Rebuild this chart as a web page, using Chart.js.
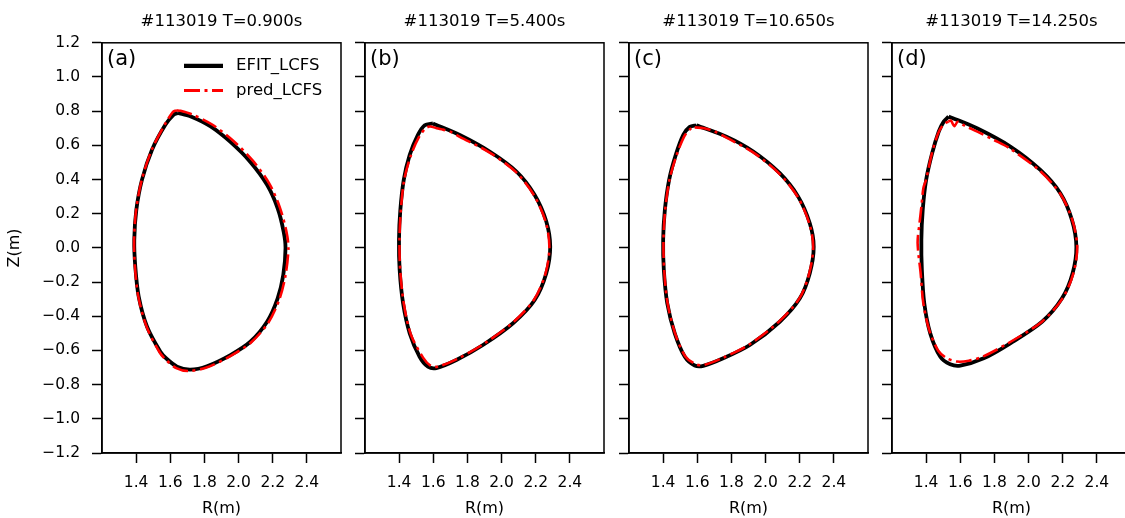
<!DOCTYPE html>
<html>
<head>
<meta charset="utf-8">
<script src="https://cdn.jsdelivr.net/npm/chart.js@4.4.0/dist/chart.umd.min.js"></script>
<style>
    html, body { margin: 0; padding: 0; background: #fff; }
    body { width: 1125px; height: 518px; overflow: hidden; position: relative; }
    .panel { position: absolute; top: 0; width: 349px; height: 518px; }
</style>
</head>
<body>
<div class="panel" style="left:0px"><canvas id="c0" width="349" height="518"></canvas></div>
<div class="panel" style="left:263px"><canvas id="c1" width="349" height="518"></canvas></div>
<div class="panel" style="left:527px"><canvas id="c2" width="349" height="518"></canvas></div>
<div class="panel" style="left:790px"><canvas id="c3" width="349" height="518"></canvas></div>
<script>
// Chart data
const panelTitles = ['#113019 T=0.900s', '#113019 T=5.400s', '#113019 T=10.650s', '#113019 T=14.250s'];
const panelLabels = ['(a)', '(b)', '(c)', '(d)'];
const seriesNames = ['EFIT_LCFS', 'pred_LCFS'];
const xTicks = [1.4, 1.6, 1.8, 2.0, 2.2, 2.4];
const yTicks = [-1.2, -1.0, -0.8, -0.6, -0.4, -0.2, 0.0, 0.2, 0.4, 0.6, 0.8, 1.0, 1.2];

// (a) T=0.900s
const efitR_a = [1.645, 1.717, 1.834, 1.952, 2.069, 2.167, 2.229, 2.264, 2.275, 2.262, 2.229, 2.167, 2.069, 1.952, 1.815, 1.717, 1.640, 1.580, 1.542, 1.464, 1.415, 1.395, 1.389, 1.401, 1.434, 1.493, 1.571, 1.620, 1.645];
const efitZ_a = [0.790, 0.770, 0.712, 0.620, 0.503, 0.369, 0.232, 0.095, 0.000, -0.158, -0.295, -0.432, -0.549, -0.627, -0.692, -0.712, -0.695, -0.650, -0.607, -0.461, -0.285, -0.110, 0.047, 0.222, 0.398, 0.574, 0.720, 0.780, 0.790];
const predR_a = [1.635, 1.660, 1.725, 1.845, 1.965, 2.082, 2.180, 2.242, 2.280, 2.292, 2.275, 2.240, 2.175, 2.073, 1.952, 1.812, 1.705, 1.635, 1.575, 1.538, 1.462, 1.413, 1.393, 1.388, 1.400, 1.433, 1.492, 1.570, 1.615, 1.635];
const predZ_a = [0.805, 0.802, 0.782, 0.722, 0.630, 0.512, 0.376, 0.236, 0.097, 0.000, -0.160, -0.298, -0.436, -0.553, -0.633, -0.700, -0.720, -0.703, -0.655, -0.612, -0.463, -0.286, -0.110, 0.047, 0.222, 0.398, 0.575, 0.725, 0.795, 0.805];

// (b) T=5.400s
const efitR_b = [1.598, 1.755, 1.930, 2.087, 2.194, 2.262, 2.285, 2.262, 2.194, 2.067, 1.891, 1.735, 1.618, 1.569, 1.520, 1.462, 1.423, 1.403, 1.399, 1.407, 1.427, 1.462, 1.510, 1.550, 1.598];
const efitZ_b = [0.728, 0.661, 0.564, 0.447, 0.310, 0.154, 0.007, -0.148, -0.305, -0.441, -0.568, -0.656, -0.703, -0.695, -0.637, -0.500, -0.324, -0.129, 0.047, 0.222, 0.398, 0.544, 0.661, 0.718, 0.728];
const predR_b = [1.580, 1.620, 1.657, 1.700, 1.755, 1.930, 2.085, 2.190, 2.258, 2.280, 2.258, 2.190, 2.065, 1.890, 1.735, 1.625, 1.585, 1.540, 1.468, 1.427, 1.406, 1.402, 1.410, 1.430, 1.470, 1.518, 1.555, 1.580];
const predZ_b = [0.712, 0.700, 0.692, 0.680, 0.650, 0.558, 0.443, 0.308, 0.154, 0.007, -0.148, -0.303, -0.438, -0.565, -0.652, -0.695, -0.690, -0.642, -0.505, -0.324, -0.129, 0.047, 0.222, 0.400, 0.545, 0.652, 0.700, 0.712];

// (c) T=10.650s
const efitR_c = [1.595, 1.771, 1.928, 2.083, 2.191, 2.259, 2.282, 2.259, 2.201, 2.083, 1.908, 1.752, 1.635, 1.585, 1.527, 1.468, 1.424, 1.404, 1.400, 1.410, 1.435, 1.474, 1.518, 1.556, 1.595];
const efitZ_c = [0.717, 0.651, 0.564, 0.437, 0.300, 0.144, 0.007, -0.148, -0.295, -0.432, -0.568, -0.646, -0.690, -0.688, -0.637, -0.500, -0.324, -0.129, 0.047, 0.222, 0.398, 0.544, 0.661, 0.708, 0.717];
const predR_c = [1.585, 1.640, 1.700, 1.771, 1.925, 2.080, 2.188, 2.256, 2.279, 2.256, 2.199, 2.080, 1.905, 1.750, 1.640, 1.595, 1.530, 1.470, 1.426, 1.406, 1.402, 1.412, 1.437, 1.478, 1.522, 1.558, 1.585];
const predZ_c = [0.705, 0.700, 0.682, 0.645, 0.560, 0.435, 0.299, 0.144, 0.007, -0.148, -0.294, -0.430, -0.565, -0.643, -0.685, -0.682, -0.635, -0.500, -0.324, -0.129, 0.047, 0.222, 0.398, 0.540, 0.650, 0.695, 0.705];

// (d) T=14.250s
const efitR_d = [1.532, 1.698, 1.893, 2.069, 2.186, 2.254, 2.280, 2.258, 2.196, 2.079, 1.893, 1.737, 1.600, 1.541, 1.483, 1.424, 1.389, 1.375, 1.372, 1.380, 1.400, 1.435, 1.474, 1.503, 1.532];
const efitZ_d = [0.769, 0.700, 0.593, 0.456, 0.320, 0.164, 0.007, -0.148, -0.295, -0.432, -0.558, -0.646, -0.689, -0.681, -0.637, -0.500, -0.324, -0.129, 0.047, 0.222, 0.398, 0.554, 0.681, 0.739, 0.769];
const predR_d = [1.530, 1.545, 1.565, 1.585, 1.620, 1.700, 1.800, 1.890, 2.065, 2.185, 2.256, 2.285, 2.262, 2.198, 2.080, 1.890, 1.735, 1.650, 1.580, 1.520, 1.470, 1.418, 1.383, 1.368, 1.350, 1.362, 1.372, 1.384, 1.400, 1.433, 1.470, 1.500, 1.530];
const predZ_d = [0.740, 0.745, 0.712, 0.738, 0.718, 0.680, 0.630, 0.582, 0.452, 0.318, 0.164, 0.007, -0.150, -0.297, -0.430, -0.552, -0.635, -0.660, -0.665, -0.645, -0.600, -0.480, -0.320, -0.150, 0.030, 0.150, 0.240, 0.350, 0.400, 0.550, 0.670, 0.720, 0.740];

const efitR = [efitR_a, efitR_b, efitR_c, efitR_d];
const efitZ = [efitZ_a, efitZ_b, efitZ_c, efitZ_d];
const predR = [predR_a, predR_b, predR_c, predR_d];
const predZ = [predZ_a, predZ_b, predZ_c, predZ_d];

Chart.defaults.font.family = "'DejaVu Sans', sans-serif";
Chart.defaults.color = '#000';

function toPoints(rs, zs) {
    return rs.map((r, i) => ({ x: r, y: zs[i] }));
}

function fmtTick(v) {
    return v.toFixed(1).replace('-', '\u2212');
}

// closes the box (top and right spines) and writes the panel letter
const framePlugin = {
    id: 'frame',
    afterDraw(chart, args, opts) {
        const ctx = chart.ctx;
        const a = chart.chartArea;
        ctx.save();
        ctx.strokeStyle = '#000';
        ctx.lineWidth = 1.5;
        ctx.strokeRect(a.left, a.top, a.right - a.left, a.bottom - a.top);
        ctx.font = "21px 'DejaVu Sans'";
        ctx.fillStyle = '#000';
        ctx.textAlign = 'left';
        ctx.textBaseline = 'middle';
        ctx.fillText(opts.label, a.left + 5, a.top + 17);
        ctx.restore();
    }
};

// matplotlib-like legend inside the first panel
const boxLegendPlugin = {
    id: 'boxLegend',
    afterDraw(chart, args, opts) {
        if (!opts.show) return;
        const ctx = chart.ctx;
        const a = chart.chartArea;
        const x0 = a.left + 82, x1 = a.left + 121, tx = a.left + 134;
        ctx.save();
        chart.data.datasets.slice().reverse().forEach((ds, i) => {
            const y = a.top + 23 + i * 24.7;
            ctx.beginPath();
            ctx.strokeStyle = ds.borderColor;
            ctx.lineWidth = ds.borderWidth + 0.4;
            ctx.setLineDash(ds.borderDash || []);
            ctx.moveTo(x0, y);
            ctx.lineTo(x1, y);
            ctx.stroke();
            ctx.setLineDash([]);
            ctx.font = "16.5px 'DejaVu Sans'";
            ctx.fillStyle = '#000';
            ctx.textBaseline = 'middle';
            ctx.fillText(ds.label, tx, y);
        });
        ctx.restore();
    }
};

for (let p = 0; p < 4; p++) {
    const first = p === 0;
    new Chart(document.getElementById('c' + p), {
        type: 'scatter',
        data: {
            datasets: [
                {
                    label: seriesNames[1],
                    data: toPoints(predR[p], predZ[p]),
                    showLine: true,
                    borderColor: '#ff0000',
                    borderWidth: 2.6,
                    borderDash: [16, 4.5, 3, 4.5],
                    pointRadius: 0,
                    tension: 0.3,
                    order: 1
                },
                {
                    label: seriesNames[0],
                    data: toPoints(efitR[p], efitZ[p]),
                    showLine: true,
                    borderColor: '#000000',
                    borderWidth: 3.8,
                    pointRadius: 0,
                    tension: 0.3,
                    order: 2
                }
            ]
        },
        options: {
            responsive: false,
            animation: false,
            layout: { padding: { right: 8 } },
            plugins: {
                legend: { display: false },
                tooltip: { enabled: false },
                title: {
                    display: true,
                    text: panelTitles[p],
                    fullSize: false,
                    font: { size: 16.5, weight: 'normal' },
                    color: '#000',
                    padding: { top: 12, bottom: 11 }
                },
                frame: { label: panelLabels[p] },
                boxLegend: { show: first }
            },
            scales: {
                x: {
                    type: 'linear',
                    min: 1.2,
                    max: 2.6,
                    afterBuildTicks: (scale) => { scale.ticks = xTicks.map(v => ({ value: v })); },
                    afterFit: (scale) => { scale.height = 65; },
                    ticks: {
                        font: { size: 15.5 },
                        color: '#000',
                        padding: 11,
                        maxRotation: 0,
                        autoSkip: false,
                        callback: (v) => fmtTick(v)
                    },
                    grid: {
                        drawOnChartArea: false,
                        drawTicks: true,
                        tickLength: 10,
                        tickWidth: 1.5,
                        tickColor: '#000'
                    },
                    border: { display: true, color: '#000', width: 1.5 },
                    title: {
                        display: true,
                        text: 'R(m)',
                        font: { size: 16 },
                        color: '#000',
                        padding: { top: 0, bottom: 0 }
                    }
                },
                y: {
                    type: 'linear',
                    min: -1.2,
                    max: 1.2,
                    afterBuildTicks: (scale) => { scale.ticks = yTicks.map(v => ({ value: v })); },
                    afterFit: (scale) => { scale.width = 102; },
                    ticks: {
                        display: first,
                        font: { size: 15.5 },
                        color: '#000',
                        padding: 12,
                        autoSkip: false,
                        callback: (v) => fmtTick(v)
                    },
                    grid: {
                        drawOnChartArea: false,
                        drawTicks: true,
                        tickLength: 10,
                        tickWidth: 1.5,
                        tickColor: '#000'
                    },
                    border: { display: true, color: '#000', width: 1.5 },
                    title: {
                        display: first,
                        text: 'Z(m)',
                        font: { size: 16 },
                        color: '#000',
                        padding: { top: 5, bottom: 0 }
                    }
                }
            }
        },
        plugins: [framePlugin, boxLegendPlugin]
    });
}
</script>
</body>
</html>
